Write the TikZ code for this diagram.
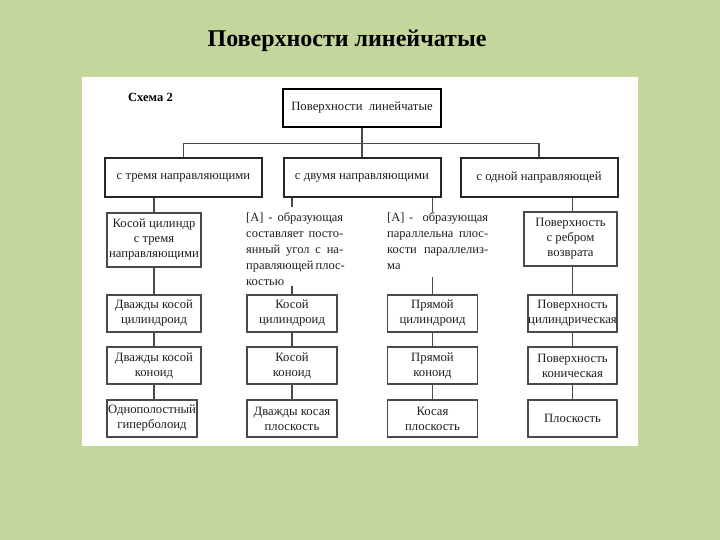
\documentclass[tikz,border=0pt]{standalone}
\usepackage{fontspec}
\usetikzlibrary{calc}
\setmainfont{Liberation Serif}
\definecolor{bggreen}{HTML}{C3D69B}
\definecolor{ink}{HTML}{1E1E1E}
\definecolor{edge}{HTML}{4A4A4A}
\newcommand{\jline}[2][97pt]{\makebox[#1][s]{#2}\\}
\begin{document}
\begin{tikzpicture}[x=1pt,y=-1pt,
  base/.style={inner sep=0pt, align=center, text=ink, font=\fontsize{12.7}{15}\selectfont},
  box/.style={base, draw=edge, line width=1.1pt},
  midbox/.style={base, draw=black!85, line width=2pt, minimum width=157pt, minimum height=39pt},
  topbox/.style={base, draw=black, line width=2.6pt},
  txt/.style={inner sep=0pt, align=left, text=ink, font=\fontsize{12.5}{16}\selectfont, anchor=north west},
  conn/.style={draw=edge, line width=1.1pt},
  c1/.style={box, minimum width=94pt},
  c2/.style={box, minimum width=90pt},
  c4/.style={box, minimum width=89pt},
  rowh/.style={minimum height=37pt}
]
\useasboundingbox (0,0) rectangle (720,540);
\fill[bggreen] (0,0) rectangle (720,540);
\fill[white] (82,77) rectangle (638,446);

\node[font=\fontsize{24}{28}\selectfont\bfseries, text=black, inner sep=0pt] (title) at (347,41) {Поверхности линейчатые};
\node[font=\fontsize{12.5}{15}\selectfont\bfseries, text=black, inner sep=0pt, anchor=west] (schema) at (128,97) {Схема 2};

\node[topbox, minimum width=158pt, minimum height=38pt] (top) at (362,108) {Поверхности\ \ линейчатые};

\node[midbox] (la) at (183.5,178) {с тремя направляющими};
\node[midbox] (lb) at (362,178) {\raisebox{2pt}{с двумя направляющими}};
\node[midbox] (lc) at (539,178) {с одной направляющей};

% column 1
\node[c1, minimum height=54pt] (a1) at (154,240) {Косой цилиндр\\с тремя\\направляющими};
\node[c1, rowh] (a2) at (154,313.5) {Дважды косой\\цилиндроид};
\node[c1, rowh] (a3) at (154,365.5) {Дважды косой\\коноид};
\node[box, rowh, minimum width=90pt] (a4) at (152,418.5) {Однополостный\\гиперболоид};

% column 2
\node[txt] (ta) at (246,212) {\jline{[А] - образующая}\jline{составляет посто-}\jline{янный угол с на-}\jline{правляющей плос-}костью};
\node[c2, rowh] (b2) at (292,313.5) {Косой\\цилиндроид};
\node[c2, rowh] (b3) at (292,365.5) {Косой\\коноид};
\node[c2, rowh] (b4) at (292,418.5) {Дважды косая\\плоскость};

% column 3
\node[txt] (tb) at (387,212) {\jline[101pt]{[А] -\ \ образующая}\jline[101pt]{параллельна плос-}\jline[101pt]{кости параллелиз-}ма};
\node[c2, rowh] (d2) at (432.5,313.5) {Прямой\\цилиндроид};
\node[c2, rowh] (d3) at (432.5,365.5) {Прямой\\коноид};
\node[c2, rowh] (d4) at (432.5,418.5) {Косая\\плоскость};

% column 4
\node[box, minimum width=93pt, minimum height=54pt] (e1) at (570.5,239) {Поверхность\\с ребром\\возврата};
\node[c4, rowh] (e2) at (572.5,313.5) {Поверхность\\цилиндрическая};
\node[c4, rowh] (e3) at (572.5,365.5) {Поверхность\\коническая};
\node[c4, rowh] (e4) at (572.5,418.5) {Плоскость};

% connectors: level 1 to level 2
\coordinate (hub) at ($(top.south)+(0,15.5)$);
\draw[conn] (top.south) -- (hub);
\draw[conn] (la.north) |- (hub) -| (lc.north);
\draw[conn] (hub) -- (lb.north);

% level 2 to columns
\draw[conn] (a1.north) -- (a1.north |- la.south);
\draw[conn] (b2.north |- lb.south) -- ([yshift=5pt]b2.north |- ta.north);
\draw[conn] (d2.north |- lb.south) -- (d2.north |- tb.north);
\draw[conn] (e1.north -| e2.north) -- (e2.north |- lc.south);

% column chains
\draw[conn] (a1) -- (a2);
\draw[conn] (a2) -- (a3);
\draw[conn] (a3.south -| a2.south) -- (a2.south |- a4.north);
\draw[conn] ([yshift=-1pt]b2.north |- ta.south) -- (b2.north);
\draw[conn] (b2) -- (b3);
\draw[conn] (b3) -- (b4);
\draw[conn] ([yshift=-8pt]d2.north |- tb.south) -- (d2.north);
\draw[conn] (d2) -- (d3);
\draw[conn] (d3) -- (d4);
\draw[conn] (e1.south -| e2.north) -- (e2.north);
\draw[conn] (e2) -- (e3);
\draw[conn] (e3) -- (e4);
\end{tikzpicture}
\end{document}
